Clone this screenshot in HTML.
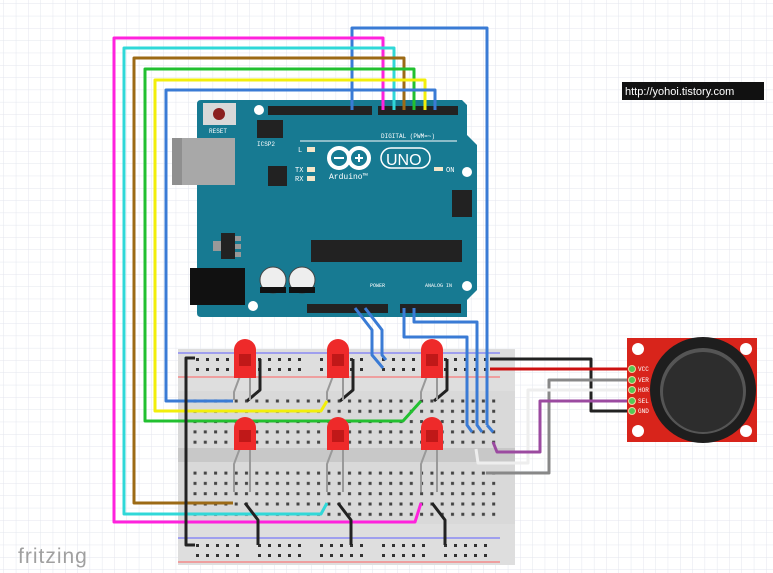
<!DOCTYPE html>
<html><head><meta charset="utf-8"><style>
html,body{margin:0;padding:0;background:#fff}
svg{display:block}
</style></head><body>
<svg width="773" height="573" viewBox="0 0 773 573" xmlns="http://www.w3.org/2000/svg" font-family="Liberation Mono, monospace">
<defs>
<pattern id="g" width="12.3" height="12.3" patternUnits="userSpaceOnUse" x="4" y="4">
<path d="M12.3 0V12.3H0" fill="none" stroke="#e3e6ee" stroke-width="1"/>
</pattern>
<pattern id="dots" width="10.3" height="10.3" patternUnits="userSpaceOnUse" x="190" y="396">
<rect x="3.5" y="3.5" width="3" height="3" fill="#444"/>
</pattern>
</defs>
<rect width="773" height="573" fill="#fff"/>
<rect width="773" height="573" fill="url(#g)"/>

<!-- breadboard -->
<rect x="178" y="349" width="337" height="216" fill="#d9d9d9"/>
<rect x="178" y="349" width="337" height="42" fill="#dedede"/>
<rect x="178" y="524" width="337" height="41" fill="#dedede"/>
<rect x="178" y="448" width="337" height="14" fill="#c8c8c8"/>
<line x1="178" y1="353" x2="500" y2="353" stroke="#6060ff" stroke-width="1"/>
<line x1="178" y1="377" x2="500" y2="377" stroke="#ff6060" stroke-width="1"/>
<line x1="178" y1="538" x2="500" y2="538" stroke="#6060ff" stroke-width="1"/>
<line x1="178" y1="562" x2="500" y2="562" stroke="#ff6060" stroke-width="1"/>
<rect x="190" y="396" width="310" height="51" fill="url(#dots)"/>
<rect x="190" y="468" width="310" height="51" fill="url(#dots)"/>
<g fill="#333">
<path d="M196 358h3v3h-3zM206 358h3v3h-3zM216 358h3v3h-3zM226 358h3v3h-3zM236 358h3v3h-3zM258 358h3v3h-3zM268 358h3v3h-3zM278 358h3v3h-3zM288 358h3v3h-3zM298 358h3v3h-3zM320 358h3v3h-3zM330 358h3v3h-3zM340 358h3v3h-3zM350 358h3v3h-3zM360 358h3v3h-3zM382 358h3v3h-3zM392 358h3v3h-3zM402 358h3v3h-3zM412 358h3v3h-3zM422 358h3v3h-3zM444 358h3v3h-3zM454 358h3v3h-3zM464 358h3v3h-3zM474 358h3v3h-3zM484 358h3v3h-3z"/>
<path d="M196 368h3v3h-3zM206 368h3v3h-3zM216 368h3v3h-3zM226 368h3v3h-3zM236 368h3v3h-3zM258 368h3v3h-3zM268 368h3v3h-3zM278 368h3v3h-3zM288 368h3v3h-3zM298 368h3v3h-3zM320 368h3v3h-3zM330 368h3v3h-3zM340 368h3v3h-3zM350 368h3v3h-3zM360 368h3v3h-3zM382 368h3v3h-3zM392 368h3v3h-3zM402 368h3v3h-3zM412 368h3v3h-3zM422 368h3v3h-3zM444 368h3v3h-3zM454 368h3v3h-3zM464 368h3v3h-3zM474 368h3v3h-3zM484 368h3v3h-3z"/>
<path d="M196 544h3v3h-3zM206 544h3v3h-3zM216 544h3v3h-3zM226 544h3v3h-3zM236 544h3v3h-3zM258 544h3v3h-3zM268 544h3v3h-3zM278 544h3v3h-3zM288 544h3v3h-3zM298 544h3v3h-3zM320 544h3v3h-3zM330 544h3v3h-3zM340 544h3v3h-3zM350 544h3v3h-3zM360 544h3v3h-3zM382 544h3v3h-3zM392 544h3v3h-3zM402 544h3v3h-3zM412 544h3v3h-3zM422 544h3v3h-3zM444 544h3v3h-3zM454 544h3v3h-3zM464 544h3v3h-3zM474 544h3v3h-3zM484 544h3v3h-3z"/>
<path d="M196 554h3v3h-3zM206 554h3v3h-3zM216 554h3v3h-3zM226 554h3v3h-3zM236 554h3v3h-3zM258 554h3v3h-3zM268 554h3v3h-3zM278 554h3v3h-3zM288 554h3v3h-3zM298 554h3v3h-3zM320 554h3v3h-3zM330 554h3v3h-3zM340 554h3v3h-3zM350 554h3v3h-3zM360 554h3v3h-3zM382 554h3v3h-3zM392 554h3v3h-3zM402 554h3v3h-3zM412 554h3v3h-3zM422 554h3v3h-3zM444 554h3v3h-3zM454 554h3v3h-3zM464 554h3v3h-3zM474 554h3v3h-3zM484 554h3v3h-3z"/>
</g>

<!-- Arduino -->
<path d="M197 104 Q197 100 201 100 L462 100 L467 105 L467 135 L477 145 L477 290 L467 300 L467 317 L201 317 Q197 317 197 313 Z" fill="#177a92"/>
<rect x="172" y="138" width="63" height="47" fill="#a8a8a8"/>
<rect x="172" y="138" width="10" height="47" fill="#8f8f8f"/>
<rect x="203" y="103" width="33" height="22" fill="#d8d8d8"/>
<circle cx="219" cy="114" r="6" fill="#8b2020"/>
<text x="209" y="133" font-size="6" fill="#fff">RESET</text>
<rect x="257" y="120" width="26" height="18" fill="#222"/>
<text x="257" y="146" font-size="6" fill="#fff">ICSP2</text>
<circle cx="259" cy="110" r="5" fill="#fff"/>
<circle cx="467" cy="172" r="5" fill="#fff"/>
<circle cx="467" cy="286" r="5" fill="#fff"/>
<circle cx="253" cy="306" r="5" fill="#fff"/>
<rect x="268" y="106" width="104" height="9" fill="#222"/>
<rect x="378" y="106" width="80" height="9" fill="#222"/>
<text x="381" y="138" font-size="6" fill="#fff">DIGITAL (PWM=~)</text>
<line x1="300" y1="141" x2="457" y2="141" stroke="#fff" stroke-width="1"/>
<rect x="307" y="147" width="8" height="5" fill="#f5e6c8"/>
<rect x="307" y="167" width="8" height="5" fill="#f5e6c8"/>
<rect x="307" y="176" width="8" height="5" fill="#f5e6c8"/>
<text x="295" y="172" font-size="7" fill="#fff">TX</text>
<text x="295" y="181" font-size="7" fill="#fff">RX</text>
<text x="298" y="152" font-size="7" fill="#fff">L</text>
<rect x="268" y="166" width="19" height="20" fill="#222"/>
<g fill="none" stroke="#fff" stroke-width="4">
<circle cx="339" cy="158" r="10"/><circle cx="359" cy="158" r="10"/>
</g>
<rect x="334" y="157" width="10" height="2" fill="#fff"/>
<path d="M355 157h8v2h-8zM358 154h2v8h-2z" fill="#fff"/>
<rect x="381" y="148" width="49" height="20" rx="10" fill="none" stroke="#fff" stroke-width="1.5"/>
<text x="386" y="165" font-size="16" fill="#fff" style="font-family:'Liberation Sans',sans-serif">UNO</text>
<text x="329" y="179" font-size="8" fill="#fff">Arduino™</text>
<rect x="434" y="167" width="9" height="4" fill="#f5e6c8"/>
<text x="446" y="172" font-size="7" fill="#fff">ON</text>
<rect x="452" y="190" width="20" height="27" fill="#222"/>
<rect x="311" y="240" width="151" height="22" fill="#222"/>
<rect x="221" y="233" width="14" height="26" fill="#222"/>
<rect x="213" y="241" width="8" height="10" fill="#999"/>
<rect x="235" y="236" width="6" height="5" fill="#999"/><rect x="235" y="244" width="6" height="5" fill="#999"/><rect x="235" y="252" width="6" height="5" fill="#999"/>
<rect x="190" y="268" width="55" height="37" fill="#111"/>
<circle cx="273" cy="280" r="13" fill="#eee" stroke="#444"/>
<circle cx="302" cy="280" r="13" fill="#eee" stroke="#444"/>
<rect x="260" y="287" width="26" height="6" fill="#111"/>
<rect x="289" y="287" width="26" height="6" fill="#111"/>
<rect x="307" y="304" width="81" height="9" fill="#222"/>
<rect x="400" y="304" width="61" height="9" fill="#222"/>
<text x="370" y="287" font-size="5" fill="#fff">POWER</text>
<text x="425" y="287" font-size="5" fill="#fff">ANALOG IN</text>

<!-- wires -->
<g fill="none" stroke-width="3" stroke-linejoin="round">
<path d="M352 110 L352 28 L487 28 L487 425" stroke="#3a7bd5"/>
<path d="M383 110 V38 H114 V522 H415 L421 503" stroke="#ff22dd"/>
<path d="M394 110 V48 H124 V514 H321 L327 503" stroke="#30d8d8"/>
<path d="M404 110 V58 H134 V503 H233" stroke="#9c6a15"/>
<path d="M414 110 V69 H145 V421 H403 L421 401" stroke="#22c030"/>
<path d="M425 110 V80 H155 V411 H321 L327 401" stroke="#f2ee0a"/>
<path d="M435 110 V90 H166 V401 H233" stroke="#3a7bd5"/>
<path d="M355 308 L372 330 V355 L383 368" stroke="#3a7bd5"/>
<path d="M365 308 L382 330 V355 L386 360" stroke="#3a7bd5"/>
<path d="M404 308 V337 H467 V425 L472 432" stroke="#3a7bd5"/>
<path d="M414 308 V322 H477 V425 L482 432" stroke="#3a7bd5"/>
<path d="M487 425 L493 432" stroke="#3a7bd5"/>
<path d="M195 358 H186 V545 H195" stroke="#222"/>
<path d="M260 359 V390 L247 401" stroke="#222"/><path d="M353 359 V390 L340 401" stroke="#222"/><path d="M447 359 V390 L434 401" stroke="#222"/>
<path d="M245 503 L258 520 V545" stroke="#222"/><path d="M338 503 L351 520 V545" stroke="#222"/><path d="M432 503 L445 520 V545" stroke="#222"/>
<path d="M490 359 H591 V411 H630" stroke="#222"/>
<path d="M490 369 H630" stroke="#cc1111"/>
<path d="M486 473 H549 V380 H630" stroke="#888"/>
<path d="M476 449 L478 463 H528 V390 H630" stroke="#eee"/>
<path d="M493 442 L497 452 H540 V401 H630" stroke="#9b4aa0"/>
</g>

<!-- LEDs -->
<g stroke="#999" stroke-width="2" fill="none">
<path d="M240 376 L234 392 V400M250 376 V400"/><path d="M333 376 L327 392 V400M343 376 V400"/><path d="M427 376 L421 392 V400M437 376 V400"/>
<path d="M240 448 L234 464 V492M250 448 V492"/><path d="M333 448 L327 464 V492M343 448 V492"/><path d="M427 448 L421 464 V492M437 448 V492"/>
</g>
<g fill="#ee2a2a">
<path d="M234 378 V350 a11 11 0 0 1 22 0 V378 Z"/><path d="M327 378 V350 a11 11 0 0 1 22 0 V378 Z"/><path d="M421 378 V350 a11 11 0 0 1 22 0 V378 Z"/>
<path d="M234 450 V428 a11 11 0 0 1 22 0 V450 Z"/><path d="M327 450 V428 a11 11 0 0 1 22 0 V450 Z"/><path d="M421 450 V428 a11 11 0 0 1 22 0 V450 Z"/>
</g>
<g fill="#c01818">
<rect x="239" y="354" width="12" height="12"/><rect x="332" y="354" width="12" height="12"/><rect x="426" y="354" width="12" height="12"/>
<rect x="239" y="430" width="12" height="12"/><rect x="332" y="430" width="12" height="12"/><rect x="426" y="430" width="12" height="12"/>
</g>

<!-- joystick -->
<rect x="627" y="338" width="130" height="104" fill="#d8241b"/>
<circle cx="638" cy="349" r="6" fill="#fff"/><circle cx="746" cy="349" r="6" fill="#fff"/>
<circle cx="638" cy="431" r="6" fill="#fff"/><circle cx="746" cy="431" r="6" fill="#fff"/>
<g fill="#55c855" stroke="#f4d0a0" stroke-width="1">
<circle cx="632" cy="369" r="3.5"/><circle cx="632" cy="380" r="3.5"/><circle cx="632" cy="390" r="3.5"/><circle cx="632" cy="401" r="3.5"/><circle cx="632" cy="411" r="3.5"/>
</g>
<g font-size="6" fill="#fff"><text x="638" y="371">VCC</text><text x="638" y="382">VER</text><text x="638" y="392">HOR</text><text x="638" y="403">SEL</text><text x="638" y="413">GND</text></g>
<circle cx="703" cy="390" r="53" fill="#1e1e1e"/>
<circle cx="703" cy="391" r="43" fill="#555"/>
<circle cx="703" cy="392" r="40" fill="#2d2d2d"/>

<!-- label -->
<rect x="622" y="82" width="142" height="18" fill="#111"/>
<text x="625" y="95" font-size="11" fill="#fff" style="font-family:'Liberation Sans',sans-serif">http://yohoi.tistory.com</text>
<text x="18" y="563" font-size="21" fill="#a0a0a0" style="font-family:'Liberation Sans',sans-serif" letter-spacing="1">fritzing</text>
</svg>
</body></html>
